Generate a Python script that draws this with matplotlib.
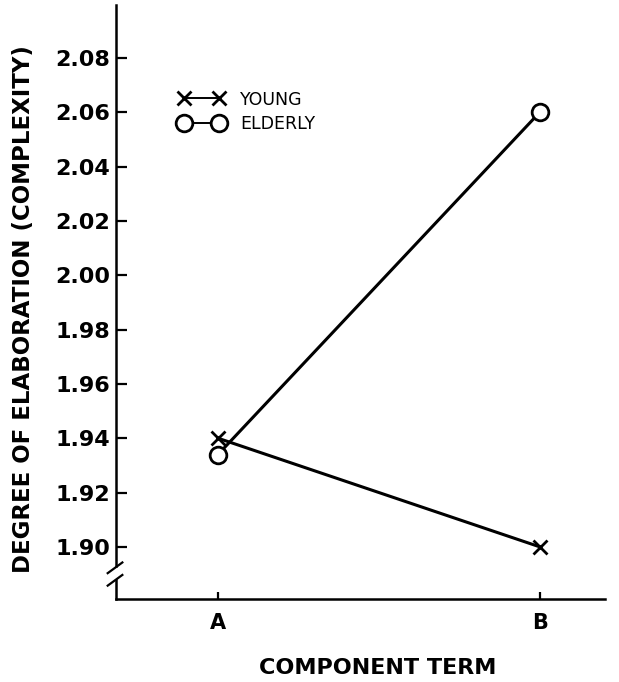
import matplotlib
matplotlib.use("Agg")
import matplotlib.pyplot as plt
from matplotlib.legend_handler import HandlerLine2D

# component term positions on the x axis
terms = ["A", "B"]
term_pos = [0, 1]

young = [1.940, 1.900]
elderly = [1.934, 2.060]

y_ticks = [1.90, 1.92, 1.94, 1.96, 1.98, 2.00, 2.02, 2.04, 2.06, 2.08]
y_tick_labels = ["1.90", "1.92", "1.94", "1.96", "1.98",
                 "2.00", "2.02", "2.04", "2.06", "2.08"]

plt.rcParams["font.family"] = ["DejaVu Sans"]

fig = plt.figure(figsize=(6.19, 6.82), dpi=100)
ax = fig.add_axes([0.1874, 0.1217, 0.7896, 0.871])

line_y, = ax.plot(term_pos, young, color="black", lw=2.2, marker="x",
                  ms=10, mew=2.0, label="YOUNG", clip_on=False, zorder=3)
line_e, = ax.plot(term_pos, elderly, color="black", lw=2.2, marker="o",
                  ms=12, mew=2.0, mfc="white", label="ELDERLY",
                  clip_on=False, zorder=3)

ax.set_xlim(-0.317, 1.202)
ax.set_ylim(1.8808, 2.0995)

ax.set_xticks(term_pos)
ax.set_xticklabels(terms, fontsize=15, fontweight="bold")
ax.set_yticks(y_ticks)
ax.set_yticklabels(y_tick_labels, fontsize=16, fontweight="bold")
ax.tick_params(axis="y", direction="in", length=8, width=1.6, pad=4)
ax.tick_params(axis="x", direction="in", length=5, width=1.6, pad=10)

for side in ["top", "right", "left"]:
    ax.spines[side].set_visible(False)
ax.spines["bottom"].set_linewidth(1.8)

# broken y axis drawn by hand
tr = ax.transAxes
ax.plot([0, 0], [0.0555, 1.0], transform=tr, color="black", lw=1.8,
        clip_on=False)
ax.plot([0, 0], [0.0, 0.032], transform=tr, color="black", lw=1.8,
        clip_on=False)
for yc in [0.0525, 0.0315]:
    ax.plot([-0.017, 0.013], [yc - 0.009, yc + 0.009], transform=tr,
            color="black", lw=1.6, clip_on=False)

leg = ax.legend(handles=[line_y, line_e], loc="upper left",
                bbox_to_anchor=(0.140, 0.856), frameon=False, fontsize=12.5,
                borderaxespad=0, borderpad=0, handlelength=2.0,
                handletextpad=1.2, labelspacing=0.4,
                handler_map={line_y: HandlerLine2D(marker_pad=0, numpoints=2),
                             line_e: HandlerLine2D(marker_pad=0, numpoints=2)})
for ln in leg.get_lines():
    ln.set_linewidth(1.4)

fig.text(24 / 619, 1 - 309 / 682, "DEGREE OF ELABORATION (COMPLEXITY)",
         rotation=90, ha="center", va="center", fontsize=16.5,
         fontweight="bold")
fig.text(378 / 619, 1 - 668 / 682, "COMPONENT TERM", ha="center",
         va="center", fontsize=16, fontweight="bold")

fig.savefig("out.png", dpi=100)
